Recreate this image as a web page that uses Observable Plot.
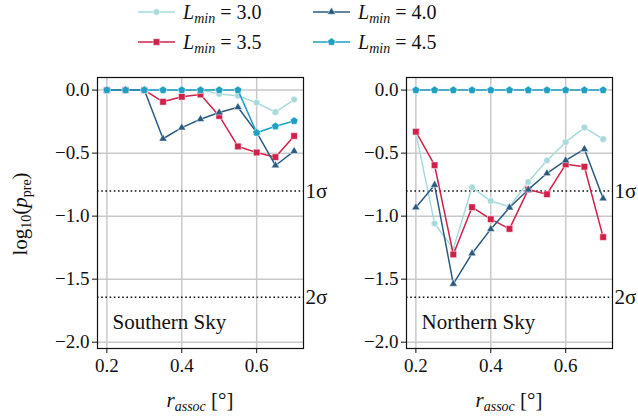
<!DOCTYPE html>
<html>
<head>
<meta charset="utf-8">
<script src="https://cdn.jsdelivr.net/npm/d3@7"></script>
<script src="https://cdn.jsdelivr.net/npm/@observablehq/plot@0.6"></script>
<style>
  html, body { margin: 0; padding: 0; background: #fff; }
  #wrap { position: relative; width: 638px; height: 419px; overflow: hidden; font-family: "Liberation Serif", "DejaVu Serif", "Times New Roman", serif; color: #111; }
  #wrap svg, #wrap svg text { font-family: "Liberation Serif", "DejaVu Serif", "Times New Roman", serif !important; }
  .abs { position: absolute; }
  .lab { font-size: 21px; white-space: nowrap; }
  .lab i { font-style: italic; }
  .lab sub { font-size: 14px; vertical-align: -4px; line-height: 0; }
</style>
</head>
<body>
<div id="wrap"></div>
<script>
// ---------- data ----------
const rAssoc = [0.2, 0.25, 0.3, 0.35, 0.4, 0.45, 0.5, 0.55, 0.6, 0.65, 0.7];
const lminLabels = ["3.0", "3.5", "4.0", "4.5"];
const seriesColors = ["#a8dadc", "#d1204a", "#2b5a80", "#1f9fc2"];

const south30 = [0, 0, 0, 0, 0, 0, -0.03, -0.045, -0.10, -0.175, -0.075];
const south35 = [0, 0, 0, -0.093, -0.053, -0.035, -0.205, -0.447, -0.495, -0.532, -0.364];
const south40 = [0, 0, 0, -0.386, -0.298, -0.231, -0.178, -0.136, -0.335, -0.598, -0.484];
const south45 = [0, 0, 0, 0, 0, 0, 0, 0, -0.338, -0.287, -0.245];

const north30 = [-0.34, -1.058, -1.26, -0.771, -0.88, -0.925, -0.729, -0.558, -0.413, -0.297, -0.389];
const north35 = [-0.33, -0.596, -1.304, -0.929, -1.024, -1.101, -0.789, -0.826, -0.589, -0.608, -1.166];
const north40 = [-0.931, -0.753, -1.537, -1.296, -1.103, -0.932, -0.79, -0.66, -0.558, -0.468, -0.86];
const north45 = [0, 0, 0, 0, 0, 0, 0, 0, 0, 0, 0];

const sigmaLevels = [-0.80, -1.643];
const sigmaLabels = ["1σ", "2σ"];
const xTicks = [0.2, 0.4, 0.6];
const yTicks = [0, -0.5, -1.0, -1.5, -2.0];
const panelNames = ["Southern Sky", "Northern Sky"];

// ---------- symbols ----------
const pentagon = {
  draw(ctx, size) {
    const rr = Math.sqrt(size / 2.3776);
    for (let i = 0; i < 5; i++) {
      const a = -Math.PI / 2 + i * 2 * Math.PI / 5;
      const px = rr * Math.cos(a), py = rr * Math.sin(a);
      if (i === 0) ctx.moveTo(px, py); else ctx.lineTo(px, py);
    }
    ctx.closePath();
  }
};
const symbols = ["circle", "square", "triangle", pentagon];
const symbolR = [3.3, 3.7, 3.0, 3.6];
const d3Symbols = [d3.symbolCircle, d3.symbolSquare, d3.symbolTriangle, pentagon];
const FONT = '"Liberation Serif", "DejaVu Serif", "Times New Roman", serif';

function build(seriesList) {
  return seriesList.map((vals, k) => rAssoc.map((x, i) => ({ x, y: vals[i], k })));
}

function panel(seriesList, name, ml, mr) {
  const rows = build(seriesList);
  const marks = [
    Plot.gridX(xTicks, { stroke: "#c9c9c9", strokeOpacity: 1, strokeWidth: 1.5 }),
    Plot.gridY(yTicks, { stroke: "#c9c9c9", strokeOpacity: 1, strokeWidth: 1.5 }),
    Plot.ruleY(sigmaLevels, { stroke: "#111", strokeWidth: 1.6, strokeDasharray: "1.6,2.6" })
  ];
  rows.forEach((data, k) => {
    marks.push(Plot.line(data, { x: "x", y: "y", stroke: seriesColors[k], strokeWidth: 1.5 }));
    marks.push(Plot.dot(data, { x: "x", y: "y", fill: seriesColors[k], r: symbolR[k], symbol: symbols[k], stroke: "white", strokeWidth: 0.5 }));
  });
  marks.push(
    Plot.frame({ stroke: "#111", strokeWidth: 1.2 }),
    Plot.axisY(yTicks, { tickFormat: d3.format(".1f"), tickSize: 5, tickPadding: 3, label: null, fontSize: 19 }),
    Plot.axisX(xTicks, { tickFormat: d3.format(".1f"), tickSize: 5, tickPadding: 5, label: null, fontSize: 19 }),
    Plot.text(sigmaLevels, { y: d => d, text: (d, i) => sigmaLabels[i], frameAnchor: "right", textAnchor: "start", dx: 2, fontSize: 21 }),
    Plot.text([name], { text: d => d, frameAnchor: "bottom-left", textAnchor: "start", lineAnchor: "bottom", dx: 15, dy: -20, fontSize: 21 })
  );
  return Plot.plot({
    width: 319,
    height: 359,
    marginTop: 17,
    marginBottom: 71,
    marginLeft: ml,
    marginRight: mr,
    style: { fontFamily: FONT, fontSize: "19px", color: "#111", background: "transparent", overflow: "visible" },
    x: { domain: [0.175, 0.725] },
    y: { domain: [-2.05, 0.1] },
    marks
  });
}

const wrap = document.getElementById("wrap");

const p2 = panel([north30, north35, north40, north45], panelNames[1], 87, 26);
p2.style.position = "absolute"; p2.style.left = "319px"; p2.style.top = "60px";
wrap.appendChild(p2);

const p1 = panel([south30, south35, south40, south45], panelNames[0], 97, 16);
p1.style.position = "absolute"; p1.style.left = "0px"; p1.style.top = "60px";
wrap.appendChild(p1);

// ---------- legend ----------
const legendPos = [[138, 12], [138, 42], [313, 12], [313, 42]];
const leg = d3.select(wrap).append("svg")
  .attr("width", 638).attr("height", 60)
  .style("position", "absolute").style("left", "0px").style("top", "0px");
lminLabels.forEach((lab, k) => {
  const [lx, ly] = legendPos[k];
  const g = leg.append("g").attr("transform", `translate(${lx},${ly})`);
  g.append("line").attr("x1", 0).attr("x2", 37).attr("y1", 0).attr("y2", 0)
    .attr("stroke", seriesColors[k]).attr("stroke-width", 1.5);
  const sym = d3.symbol(d3Symbols[k], Math.PI * symbolR[k] * symbolR[k]);
  g.append("path").attr("d", sym()).attr("transform", "translate(18.5,0)")
    .attr("fill", seriesColors[k]).attr("stroke", "white").attr("stroke-width", 0.5);
  const t = g.append("text").attr("x", 45).attr("y", 7).attr("font-size", 20).attr("fill", "#111");
  t.append("tspan").attr("font-style", "italic").text("L");
  t.append("tspan").attr("font-style", "italic").attr("font-size", 14).attr("dy", 4).text("min");
  t.append("tspan").attr("dy", -4).text(" = " + lab);
});

// ---------- axis labels ----------
function addLabel(html, left, top, rotate) {
  const d = document.createElement("div");
  d.className = "abs lab";
  d.innerHTML = html;
  d.style.left = left + "px";
  d.style.top = top + "px";
  d.style.transform = rotate ? "translate(-50%,-50%) rotate(-90deg)" : "translate(-50%,-50%)";
  wrap.appendChild(d);
}
addLabel('log<sub>10</sub>(<i>p</i><sub>pre</sub>)', 20, 214, true);
addLabel('<i>r</i><sub><i>assoc</i></sub> [°]', 200, 400, false);
addLabel('<i>r</i><sub><i>assoc</i></sub> [°]', 509, 400, false);
</script>
</body>
</html>
